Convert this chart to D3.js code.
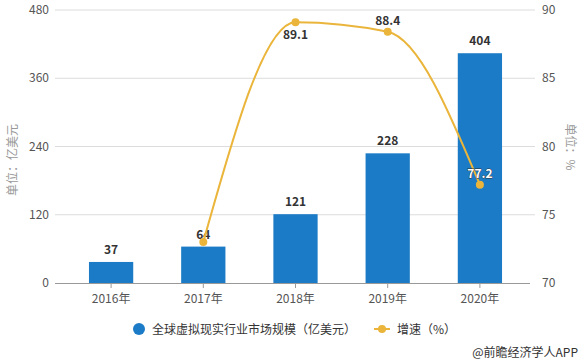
<!DOCTYPE html>
<html>
<head>
<meta charset="utf-8">
<script src="https://cdn.jsdelivr.net/npm/d3@7"></script>
<style>
  body { margin: 0; background: #fff; }
  svg { font-family: "Microsoft YaHei", "Noto Sans CJK SC", sans-serif; }
</style>
</head>
<body>
<svg id="chart" width="583" height="363"></svg>
<script>
// Daten
const years = ["2016年", "2017年", "2018年", "2019年", "2020年"];
const marketSize = [37, 64, 121, 228, 404];
const growth = [null, 73.0, 89.1, 88.4, 77.2];
const leftTicks = [0, 120, 240, 360, 480];
const rightTicks = [70, 75, 80, 85, 90];

const svg = d3.select("#chart");
const blue = "#1c7bc6";
const gold = "#eab53a";

const x = d3.scaleBand().domain(years).range([65, 526]).paddingInner(0.52).paddingOuter(0.26);
const yL = d3.scaleLinear().domain([0, 480]).range([283, 10]);
const yR = d3.scaleLinear().domain([70, 90]).range([283, 10]);

// Gitterlinien
svg.append("g").selectAll("line")
  .data(leftTicks.slice(1))
  .enter().append("line")
  .attr("x1", 55).attr("x2", 535)
  .attr("y1", d => yL(d)).attr("y2", d => yL(d))
  .attr("stroke", "#dcdcdc").attr("stroke-width", 1);

// Linke Achse
svg.append("g").selectAll("text")
  .data(leftTicks)
  .enter().append("text")
  .attr("x", 49).attr("y", d => yL(d) + 4)
  .attr("text-anchor", "end")
  .attr("font-size", 12).attr("fill", "#555")
  .text(d => d);

// Rechte Achse
svg.append("g").selectAll("text")
  .data(rightTicks)
  .enter().append("text")
  .attr("x", 542).attr("y", d => yR(d) + 4)
  .attr("font-size", 12).attr("fill", "#555")
  .text(d => d);

// Grundlinie + x-Achse
const xAxis = svg.append("g").attr("transform", "translate(0,283)")
  .call(d3.axisBottom(x).tickSize(5).tickPadding(6));
xAxis.select(".domain").attr("stroke", "#999").attr("d", "M55,0.5H530");
xAxis.selectAll(".tick line").attr("stroke", "#999");
xAxis.selectAll("text").attr("font-size", 12).attr("fill", "#555")
  .attr("font-family", "\"Noto Sans CJK SC\", sans-serif");

// Achsentitel
svg.append("text")
  .attr("transform", "translate(17,160) rotate(-90)")
  .attr("text-anchor", "middle").attr("font-size", 12).attr("fill", "#999")
  .text("单位：亿美元");
svg.append("text")
  .attr("transform", "translate(566,147) rotate(90)")
  .attr("text-anchor", "middle").attr("font-size", 12).attr("fill", "#999")
  .text("单位：%");

// Balken
svg.append("g").selectAll("rect")
  .data(marketSize)
  .enter().append("rect")
  .attr("x", (d, i) => x(years[i]))
  .attr("y", d => yL(d))
  .attr("width", x.bandwidth())
  .attr("height", d => yL(0) - yL(d))
  .attr("fill", blue);

svg.append("g").selectAll("text")
  .data(marketSize)
  .enter().append("text")
  .attr("x", (d, i) => x(years[i]) + x.bandwidth() / 2)
  .attr("y", d => yL(d) - 8)
  .attr("text-anchor", "middle")
  .attr("font-size", 12).attr("font-weight", "bold").attr("fill", "#333")
  .text(d => d);

// Linie (Wachstum)
const pts = growth.map((g, i) => ({ g, yr: years[i] })).filter(d => d.g !== null);
const line = d3.line()
  .x(d => x(d.yr) + x.bandwidth() / 2)
  .y(d => yR(d.g))
  .curve(d3.curveMonotoneX);

svg.append("path")
  .datum(pts)
  .attr("d", line)
  .attr("fill", "none")
  .attr("stroke", gold).attr("stroke-width", 2);

svg.append("g").selectAll("circle")
  .data(pts)
  .enter().append("circle")
  .attr("cx", d => x(d.yr) + x.bandwidth() / 2)
  .attr("cy", d => yR(d.g))
  .attr("r", 4).attr("fill", gold);

// Beschriftungen der Linie (2017 wird vom Balkenlabel verdeckt)
const lineLabels = pts.filter(d => d.yr !== "2017年");
svg.append("g").selectAll("text")
  .data(lineLabels)
  .enter().append("text")
  .attr("x", d => x(d.yr) + x.bandwidth() / 2)
  .attr("y", d => d.yr === "2018年" ? yR(d.g) + 17 : yR(d.g) - 7)
  .attr("text-anchor", "middle")
  .attr("font-size", 12).attr("font-weight", "bold")
  .attr("fill", d => d.yr === "2020年" ? "#fff" : "#333")
  .attr("stroke", d => d.yr === "2020年" ? "#333" : "none")
  .attr("stroke-width", 0.8)
  .attr("paint-order", "stroke")
  .text(d => d.g.toFixed(1));

// Legende
const legend = svg.append("g");
legend.append("circle").attr("cx", 139).attr("cy", 329).attr("r", 6).attr("fill", blue);
legend.append("text").attr("x", 152).attr("y", 334)
  .attr("font-size", 12).attr("fill", "#333")
  .text("全球虚拟现实行业市场规模（亿美元）");
legend.append("line").attr("x1", 374).attr("x2", 390).attr("y1", 329).attr("y2", 329)
  .attr("stroke", gold).attr("stroke-width", 2);
legend.append("circle").attr("cx", 382).attr("cy", 329).attr("r", 4).attr("fill", gold);
legend.append("text").attr("x", 397).attr("y", 334)
  .attr("font-size", 12).attr("fill", "#333")
  .text("增速（%）");

// Quelle
svg.append("text")
  .attr("x", 578).attr("y", 357)
  .attr("text-anchor", "end")
  .attr("font-size", 12).attr("fill", "#333")
  .text("@前瞻经济学人APP");
</script>
</body>
</html>
